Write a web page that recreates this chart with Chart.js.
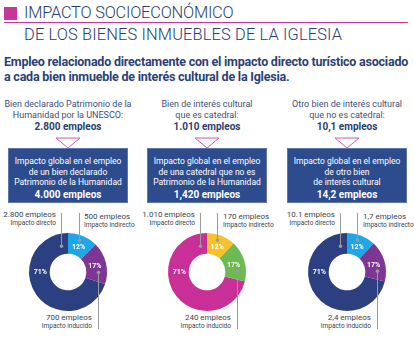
<!DOCTYPE html>
<html>
<head>
<meta charset="utf-8">
<script src="https://cdn.jsdelivr.net/npm/chart.js@4"></script>
<style>
  body { margin: 0; width: 414px; height: 340px; background: #fff; position: relative; overflow: hidden; font-family: Roboto, sans-serif; color: #2a3d72; }
  .abs { position: absolute; }
  .title { position: absolute; left: 24px; font-size: 16.4px; font-weight: 300; letter-spacing: -0.2px; white-space: nowrap; color: #2a3d72; }
  .sub { position: absolute; left: 4px; font-size: 12.5px; font-weight: 700; white-space: nowrap; color: #2b3f78; letter-spacing: -0.22px; }
  .col { position: absolute; width: 140px; text-align: center; font-size: 9px; line-height: 11px; color: #3e4f78; }
  .col b { font-size: 10px; color: #2a3d72; }
  .box { position: absolute; width: 120px; height: 55px; top: 148px; background: #2c4c8e; border: 1px solid #5d77ad; box-sizing: border-box; color: #fff; text-align: center; font-size: 8.5px; line-height: 10.5px; padding-top: 7px; }
  .box b { font-size: 10px; line-height: 13px; }
  .lbl { position: absolute; white-space: nowrap; font-size: 8px; line-height: 8px; color: #3a3f4e; }
  .lbl small { font-size: 6.5px; display: block; line-height: 8px; }
  .r { text-align: right; }
  canvas { position: absolute; }
</style>
</head>
<body>
<div class="abs" style="left:4px;top:7px;width:13px;height:13px;background:#c8359b"></div>
<div class="abs" style="left:4px;top:22px;width:404px;height:1px;background:#c8359b"></div>
<div class="title" style="top:3px">IMPACTO SOCIOECONÓMICO</div>
<div class="title" style="top:25px;letter-spacing:0.15px">DE LOS BIENES INMUEBLES DE LA IGLESIA</div>
<div class="sub" style="top:54px">Empleo relacionado directamente con el impacto directo turístico asociado</div>
<div class="sub" style="top:69px">a cada bien inmueble de interés cultural de la Iglesia.</div>
<div id="cols"></div>

<script>
// categories and values
var slices = ['Impacto directo', 'Impacto indirecto', 'Impacto inducido'];
var pctLabels = ['71%', '12%', '17%'];

var headers = [
  ['Bien declarado Patrimonio de la', 'Humanidad por la UNESCO:'],
  ['Bien de interés cultural', 'que es catedral:'],
  ['Otro bien de interés cultural', 'que no es catedral:']
];
var directTotals = ['2.800 empleos', '1.010 empleos', '10,1 empleos'];
var boxTexts = [
  ['Impacto global en el empleo', 'de un bien declarado', 'Patrimonio de la Humanidad'],
  ['Impacto global en el empleo', 'de una catedral que no es', 'Patrimonio de la Humanidad'],
  ['Impacto global en el empleo', 'de otro bien', 'de interés cultural']
];
var globalTotals = ['4.000 empleos', '1,420 empleos', '14,2 empleos'];

var unesco = [2800, 500, 700];
var catedral = [1010, 170, 240];
var otro = [10.1, 1.7, 2.4];
var valueLabels = [
  ['2.800 empleos', '500 empleos', '700 empleos'],
  ['1.010 empleos', '170 empleos', '240 empleos'],
  ['10.1 empleos', '1,7 empleos', '2,4 empleos']
];

var palettes = [
  ['#2c3f80', '#1fa6e4', '#7e3593'],
  ['#c82f97', '#f7c12c', '#6cba52'],
  ['#2c3f80', '#1fa6e4', '#7e3593']
];
var centers = [68, 207, 347];
var cy = 272;

// leader lines + percent labels
var leaders = {
  id: 'leaders',
  afterDatasetsDraw(chart) {
    var ctx = chart.ctx;
    var arcs = chart.getDatasetMeta(0).data;
    var mid = function (a) { return (a.innerRadius + a.outerRadius) / 2; };
    var at = function (a, ang, r) { return { x: a.x + Math.cos(ang) * r, y: a.y + Math.sin(ang) * r }; };
    // percent labels
    ctx.save();
    ctx.fillStyle = '#fff';
    ctx.font = 'bold 7px Roboto';
    ctx.textAlign = 'center';
    ctx.textBaseline = 'middle';
    var pos = [];
    arcs.forEach(function (a, i) {
      var ang = i === 0 ? Math.PI : (a.startAngle + a.endAngle) / 2;
      var p = at(a, ang, mid(a) - 1);
      pos.push(p);
      ctx.fillText(pctLabels[i], p.x, p.y + (i === 0 ? 0 : 1));
    });
    ctx.strokeStyle = '#9a9a9a';
    ctx.fillStyle = '#9a9a9a';
    ctx.lineWidth = 1;
    var a0 = arcs[0];
    var d0 = at(a0, a0.endAngle - 0.26, mid(a0) - 2);
    var d1 = { x: pos[1].x, y: pos[1].y - 6 };
    var d2 = { x: pos[2].x + 3, y: pos[2].y + 7 };
    var top = a0.y - 59, bottom = a0.y + 57;
    [[d0, top], [d1, top], [d2, bottom]].forEach(function (d) {
      var x = Math.round(d[0].x) + 0.5;
      ctx.beginPath();
      ctx.moveTo(x, d[0].y);
      ctx.lineTo(x, d[1]);
      ctx.stroke();
      ctx.beginPath();
      ctx.arc(x, d[0].y, 1.8, 0, Math.PI * 2);
      ctx.fill();
    });
    ctx.restore();
  }
};

var cols = document.getElementById('cols');
[unesco, catedral, otro].forEach(function (vals, k) {
  var cx = centers[k];
  var c = document.createElement('div');
  c.className = 'col';
  c.style.left = (cx - 70) + 'px';
  c.style.top = '99px';
  c.innerHTML = headers[k][0] + '<br>' + headers[k][1] + '<br><b>' + directTotals[k] + '</b>';
  cols.appendChild(c);

  var tri = document.createElement('div');
  tri.className = 'abs';
  tri.style.left = (cx - 13) + 'px';
  tri.style.top = '134px';
  tri.innerHTML = '<svg width="26" height="12"><polygon points="1,1 25,1 13,11" fill="none" stroke="#d35aa9" stroke-width="1"/></svg>';
  cols.appendChild(tri);

  var b = document.createElement('div');
  b.className = 'box';
  b.style.left = (cx - 60) + 'px';
  b.innerHTML = boxTexts[k].join('<br>') + '<br><b>' + globalTotals[k] + '</b>';
  cols.appendChild(b);

  var l0 = document.createElement('div');
  l0.className = 'lbl r';
  l0.style.right = (414 - (cx - 12)) + 'px';
  l0.style.top = '211px';
  l0.innerHTML = valueLabels[k][0] + '<small>' + slices[0] + '</small>';
  cols.appendChild(l0);

  var l1 = document.createElement('div');
  l1.className = 'lbl';
  l1.style.left = (cx + 16) + 'px';
  l1.style.top = '213px';
  l1.innerHTML = valueLabels[k][1] + '<small>' + slices[1] + '</small>';
  cols.appendChild(l1);

  var l2 = document.createElement('div');
  l2.className = 'lbl r';
  l2.style.right = (414 - (cx + 24)) + 'px';
  l2.style.top = '314px';
  l2.innerHTML = valueLabels[k][2] + '<small>' + slices[2] + '</small>';
  cols.appendChild(l2);

  var cv = document.createElement('canvas');
  cv.style.left = (cx - 68) + 'px';
  cv.style.top = (cy - 68) + 'px';
  cv.style.width = '136px';
  cv.style.height = '136px';
  cv.width = 136;
  cv.height = 136;
  document.body.appendChild(cv);

  // direct slice starts after indirect + induced, so those sit at the top right
  var total = vals.reduce(function (s, v) { return s + v; }, 0);
  var rot = (vals[1] + vals[2]) / total * 360;

  new Chart(cv.getContext('2d'), {
    type: 'doughnut',
    data: {
      labels: slices,
      datasets: [{ data: vals, backgroundColor: palettes[k], borderWidth: 0 }]
    },
    options: {
      responsive: false,
      animation: false,
      rotation: rot,
      cutout: '47%',
      layout: { padding: 29 },
      plugins: { legend: { display: false }, tooltip: { enabled: false } }
    },
    plugins: [leaders]
  });
});
</script>
</body>
</html>
